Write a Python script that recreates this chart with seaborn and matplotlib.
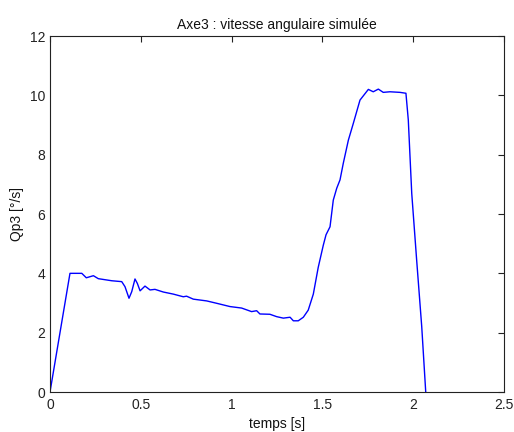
import matplotlib
matplotlib.use("Agg")
import matplotlib.pyplot as plt
import seaborn as sns
import pandas as pd

# Simulated angular velocity of axis 3
temps = [0.0, 0.110, 0.175, 0.200, 0.239, 0.266, 0.340, 0.395, 0.413, 0.435,
         0.450, 0.468, 0.481, 0.496, 0.523, 0.551, 0.578, 0.624, 0.679, 0.734,
         0.752, 0.789, 0.863, 0.918, 0.991, 1.055, 1.110, 1.138, 1.156, 1.211,
         1.248, 1.285, 1.322, 1.340, 1.367, 1.395, 1.422, 1.450, 1.477, 1.505,
         1.520, 1.542, 1.560, 1.579, 1.597, 1.615, 1.643, 1.670, 1.707, 1.753,
         1.780, 1.808, 1.835, 1.872, 1.927, 1.960, 1.973, 1.992, 2.019, 2.047,
         2.069]
qp3 = [0.0, 4.00, 4.00, 3.85, 3.92, 3.82, 3.75, 3.72, 3.55, 3.16,
       3.38, 3.81, 3.66, 3.41, 3.57, 3.44, 3.46, 3.37, 3.30, 3.21,
       3.23, 3.13, 3.07, 2.99, 2.88, 2.83, 2.71, 2.74, 2.63, 2.62,
       2.54, 2.49, 2.52, 2.40, 2.40, 2.52, 2.76, 3.30, 4.20, 4.95,
       5.30, 5.57, 6.47, 6.87, 7.15, 7.71, 8.49, 9.05, 9.84, 10.20,
       10.12, 10.21, 10.10, 10.12, 10.10, 10.07, 9.17, 6.69, 4.45, 2.20,
       0.0]

xticks = [0, 0.5, 1, 1.5, 2, 2.5]
xticklabels = ["0", "0.5", "1", "1.5", "2", "2.5"]
yticks = [0, 2, 4, 6, 8, 10, 12]

df = pd.DataFrame({"temps": temps, "qp3": qp3})

sns.set_style("white")
plt.rcParams["font.family"] = ["Liberation Sans", "DejaVu Sans"]

fig = plt.figure(figsize=(5.14, 4.32), dpi=100)
ax = fig.add_axes([50 / 514, 40 / 432, 454 / 514, 356 / 432])

sns.lineplot(data=df, x="temps", y="qp3", ax=ax, color="#0000ff",
             linewidth=1.0, sort=False)

ax.set_xlim(0, 2.5)
ax.set_ylim(0, 12)
ax.set_xticks(xticks)
ax.set_xticklabels(xticklabels)
ax.set_yticks(yticks)
ax.tick_params(direction="in", length=4, width=0.8, top=True, right=True,
               labelsize=10, colors="#222222")
ax.tick_params(axis="x", pad=4)
ax.tick_params(axis="y", pad=3.5)
for side in ax.spines.values():
    side.set_color("#222222")
    side.set_linewidth(0.8)

ax.set_title("Axe3 : vitesse angulaire simulée", fontsize=10, pad=5,
             color="#111111")
ax.set_xlabel("temps [s]", fontsize=10, labelpad=4, color="#111111")
ax.set_ylabel("Qp3 [°/s]", fontsize=10, labelpad=4, color="#111111")

fig.savefig("out.png", dpi=100, facecolor="white")
